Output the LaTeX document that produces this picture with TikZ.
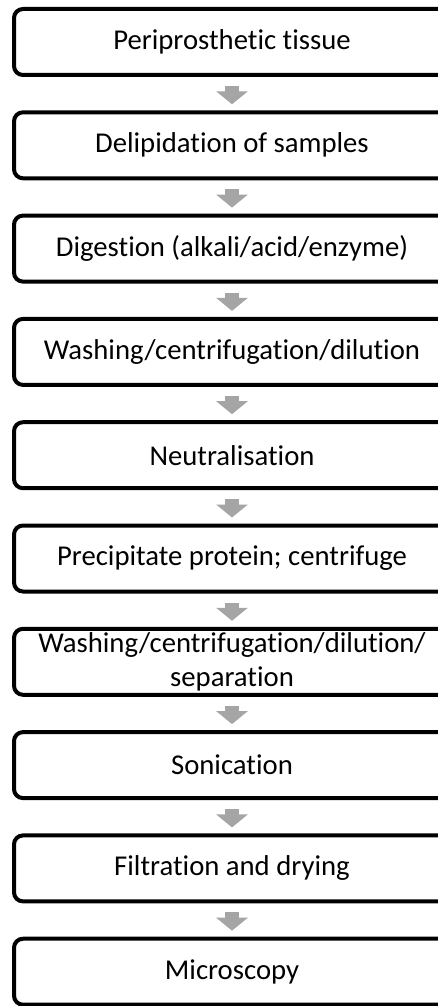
\documentclass[tikz,border=0pt]{standalone}
\usepackage{fontspec}
\setmainfont{Carlito}[Ligatures=NoCommon]
\usetikzlibrary{arrows.meta}

\tikzset{
    stepbox/.style={draw=black, line width=4pt, rounded corners=9pt, fill=white,
        minimum width=436pt, minimum height=66pt, inner sep=0pt, align=center,
        font=\fontsize{28.7}{34}\selectfont},
    flowarrow/.style={draw=arrowgray, line width=14pt,
        -{Triangle[width=31pt,length=13pt]}, shorten <=9pt, shorten >=6pt}
}
\definecolor{arrowgray}{HTML}{A5A5A5}

\begin{document}
\begin{tikzpicture}[x=1pt,y=-1pt]
                \useasboundingbox (0,0) rectangle (438,1006);
                % process steps
                \node[stepbox] (tissue)   at (232,42)    {Periprosthetic tissue};
                \node[stepbox] (delipid)  at (232,145.3) {Delipidation of samples};
                \node[stepbox] (digest)   at (232,248.6) {Digestion (alkali/acid/enzyme)};
                \node[stepbox] (wash)     at (232,351.9) {Washing/centrifugation/dilution};
                \node[stepbox] (neutral)  at (232,455.2) {Neutralisation};
                \node[stepbox] (precip)   at (232,558.5) {Precipitate protein; centrifuge};
                \node[stepbox] (washsep)  at (232,661.8) {Washing/centrifugation/dilution/\\separation};
                \node[stepbox] (sonic)    at (232,765.1) {Sonication};
                \node[stepbox] (filter)   at (232,868.4) {Filtration and drying};
                \node[stepbox] (micro)    at (232,971.7) {Microscopy};
                % arrows
                \draw[flowarrow] (tissue) -- (delipid);
                \draw[flowarrow] (delipid) -- (digest);
                \draw[flowarrow] (digest) -- (wash);
                \draw[flowarrow] (wash) -- (neutral);
                \draw[flowarrow] (neutral) -- (precip);
                \draw[flowarrow] (precip) -- (washsep);
                \draw[flowarrow] (washsep) -- (sonic);
                \draw[flowarrow] (sonic) -- (filter);
                \draw[flowarrow] (filter) -- (micro);
            \end{tikzpicture}
\end{document}
